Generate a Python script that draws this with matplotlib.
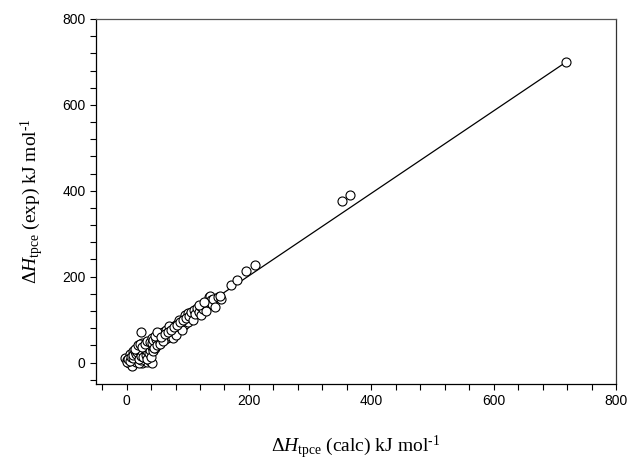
import numpy as np
import matplotlib
matplotlib.use("Agg")
import matplotlib.pyplot as plt
from matplotlib.ticker import MultipleLocator

# calculated vs experimental enthalpies (kJ/mol)
h_calc = [-3, 0, 2, 5, 4, 8, 10, 9, 12, 14, 15, 17, 18, 20, 20, 22, 23, 25, 25, 27,
          28, 30, 30, 32, 33, 35, 36, 38, 39, 40, 42, 12, 15, 18, 20, 16, 22, 24, 26, 28,
          8, 6, 10, 13, 19, 21, 24, 29, 31, 34, 37, 24,
          1, 3, 6, 7, 11, 11, 13, 16, 17, 19, 21, 23, 26, 27, 29, 31, 33, 34, 36, 38,
          40, 41, 43, 44, 46, 47, 49, 51, 53, 14, 18, 22, 26, 30, 34, 38, 42, 46, 50,
          42, 44, 45, 48, 50, 52, 54, 56, 58, 60, 62, 64, 66, 68, 70, 72, 74, 75, 78, 80,
          82, 84, 86, 88, 90, 92, 94, 96, 98, 100, 46, 50, 55, 60, 65, 70, 76, 80, 85, 90,
          95, 100, 57, 63, 67, 73, 77, 83, 87, 93, 97, 105, 112, 124, 132,
          102, 105, 108, 110, 112, 115, 118, 120, 122, 125, 128, 130, 133, 135, 136, 138,
          140, 142, 145, 150, 154, 118, 126, 152,
          171, 181, 195, 210, 352, 366, 718]
h_exp = [10, 6, 3, 12, 0, 8, -3, -8, 5, 14, 2, 9, 20, 4, 15, 25, 10, 0, 18, 30,
         6, 22, 12, 35, 2, 28, 16, 40, 3, 24, 0, 22, 30, 35, 38, 27, 33, 42, 45, 38,
         15, 20, 28, 18, 12, -2, 6, 16, 30, 20, 33, 70,
         2, 8, 4, 14, 10, 18, 26, 20, 24, 30, 8, 16, 26, 12, 34, 18, 26, 8, 22, 30,
         14, 36, 28, 40, 34, 48, 42, 46, 56, 32, 40, 44, 36, 44, 50, 48, 56, 54, 62,
         45, 52, 35, 55, 40, 60, 48, 65, 52, 72, 55, 68, 58, 78, 62, 70, 80, 66, 85, 72,
         90, 78, 92, 80, 98, 85, 102, 90, 105, 95, 62, 70, 44, 50, 75, 84, 58, 64, 100, 75,
         110, 115, 60, 66, 72, 76, 82, 88, 94, 98, 104, 112, 118, 130, 138,
         108, 118, 100, 122, 112, 128, 118, 132, 110, 125, 135, 120, 140, 152, 156, 145,
         137, 148, 130, 152, 148, 133, 142, 154,
         180, 192, 213, 227, 377, 389, 701]

# regression line
fit_slope = 0.96
fit_intercept = 10.0

plt.rcParams['font.family'] = ['Liberation Sans', 'DejaVu Sans']
plt.rcParams['mathtext.fontset'] = 'custom'
plt.rcParams['mathtext.rm'] = 'Liberation Serif'
plt.rcParams['mathtext.it'] = 'Liberation Serif:italic'

fig = plt.figure(figsize=(6.29, 4.62), dpi=100)
ax = fig.add_axes([0.1526, 0.1688, 0.8267, 0.7901])

xl = np.array([min(h_calc), max(h_calc)])
ax.plot(xl, fit_slope * xl + fit_intercept, color='black', lw=0.9, zorder=1)
ax.plot(h_calc, h_exp, 'o', ms=6.5, mfc='white', mec='black', mew=0.8, zorder=2)

ax.set_xlim(-50, 800)
ax.set_ylim(-50, 800)
ax.xaxis.set_major_locator(MultipleLocator(200))
ax.xaxis.set_minor_locator(MultipleLocator(40))
ax.yaxis.set_major_locator(MultipleLocator(200))
ax.yaxis.set_minor_locator(MultipleLocator(40))
ax.tick_params(which='both', direction='out', length=4, width=0.8, labelsize=10,
               top=False, right=False)
for s in ax.spines.values():
    s.set_linewidth(0.9)
ax.spines['top'].set_color('#555555')
ax.spines['right'].set_color('#333333')

lab_font = {'family': 'Liberation Serif', 'size': 14}
ax.set_xlabel(r'$\Delta\mathit{H}_{\mathrm{tpce}}$ (calc) kJ mol$^{\text{-}1}$',
              fontdict=lab_font, labelpad=18)
ax.set_ylabel(r'$\Delta\mathit{H}_{\mathrm{tpce}}$ (exp) kJ mol$^{\text{-}1}$',
              fontdict=lab_font, labelpad=12)

fig.savefig('out.png', dpi=100)
